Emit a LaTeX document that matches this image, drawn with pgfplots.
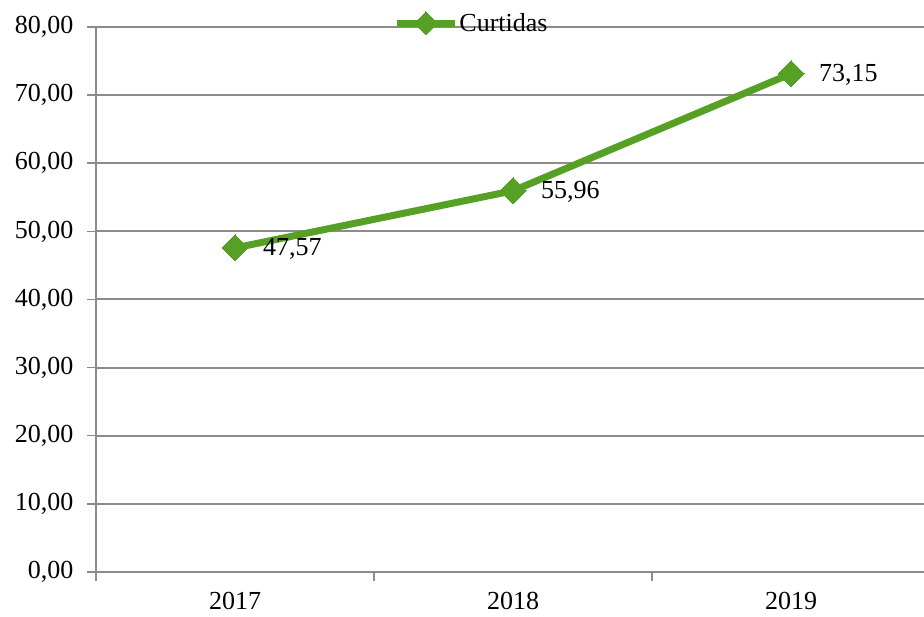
\documentclass[border=0pt]{standalone}
\usepackage{pgfplots}
\pgfplotsset{compat=1.18}
\usepackage{fontspec}
\setmainfont{Liberation Serif}
\definecolor{linegreen}{RGB}{86,160,38}
\definecolor{gridgray}{RGB}{140,140,140}
\begin{document}
\begin{tikzpicture}[x=1pt,y=1pt]
\useasboundingbox (-96,-44) rectangle (828,572);
\begin{axis}[
  at={(0,0)}, anchor=south west,
  scale only axis, width=828pt, height=545pt,
  xmin=-0.5, xmax=2.478,
  ymin=0, ymax=80,
  axis lines*=left,
  axis line style={draw=gridgray, line width=2pt, -},
  xtick={0,1,2},
  xticklabels={2017,2018,2019},
  minor xtick={-0.5,0.5,1.5},
  major x tick style={draw=none},
  minor x tick style={draw=gridgray, line width=1.5pt},
  minor tick length=9pt,
  ytick={0,10,...,80},
  major y tick style={draw=gridgray, line width=1.5pt},
  major tick length=9pt,
  tick align=outside,
  ymajorgrids,
  grid style={draw=gridgray, line width=2pt},
  yticklabel style={xshift=-10pt, /pgf/number format/.cd, fixed, fixed zerofill, precision=2, use comma, assume math mode=true},
  tick label style={font=\fontsize{26}{30}\selectfont},
  xticklabel style={yshift=-8pt},
  legend style={at={(0.359,1.007)}, anchor=west, draw=none, fill=none,
    inner sep=0pt, font=\fontsize{26}{30}\selectfont,
    nodes={inner xsep=1pt},
    legend cell align=left},
  legend image code/.code={\draw[mark repeat=2,mark phase=2, mark size=8pt] plot coordinates {(0pt,0pt) (29pt,0pt) (58pt,0pt)};},
  clip=false,
]
\addplot[color=linegreen, line width=7pt, mark=square*, mark size=9.2pt,
  mark options={rotate=45, line width=0pt, fill=linegreen, draw=linegreen},
  nodes near coords, point meta=explicit symbolic,
  every node near coord/.append style={anchor=west, xshift=28pt, yshift=-1pt, inner sep=0pt, text=black, font=\fontsize{26}{30}\selectfont}]
  coordinates {(0,47.57) [47,57] (1,55.96) [55,96] (2,73.15) [73,15]};
\addlegendentry{Curtidas}
\end{axis}
\end{tikzpicture}
\end{document}
